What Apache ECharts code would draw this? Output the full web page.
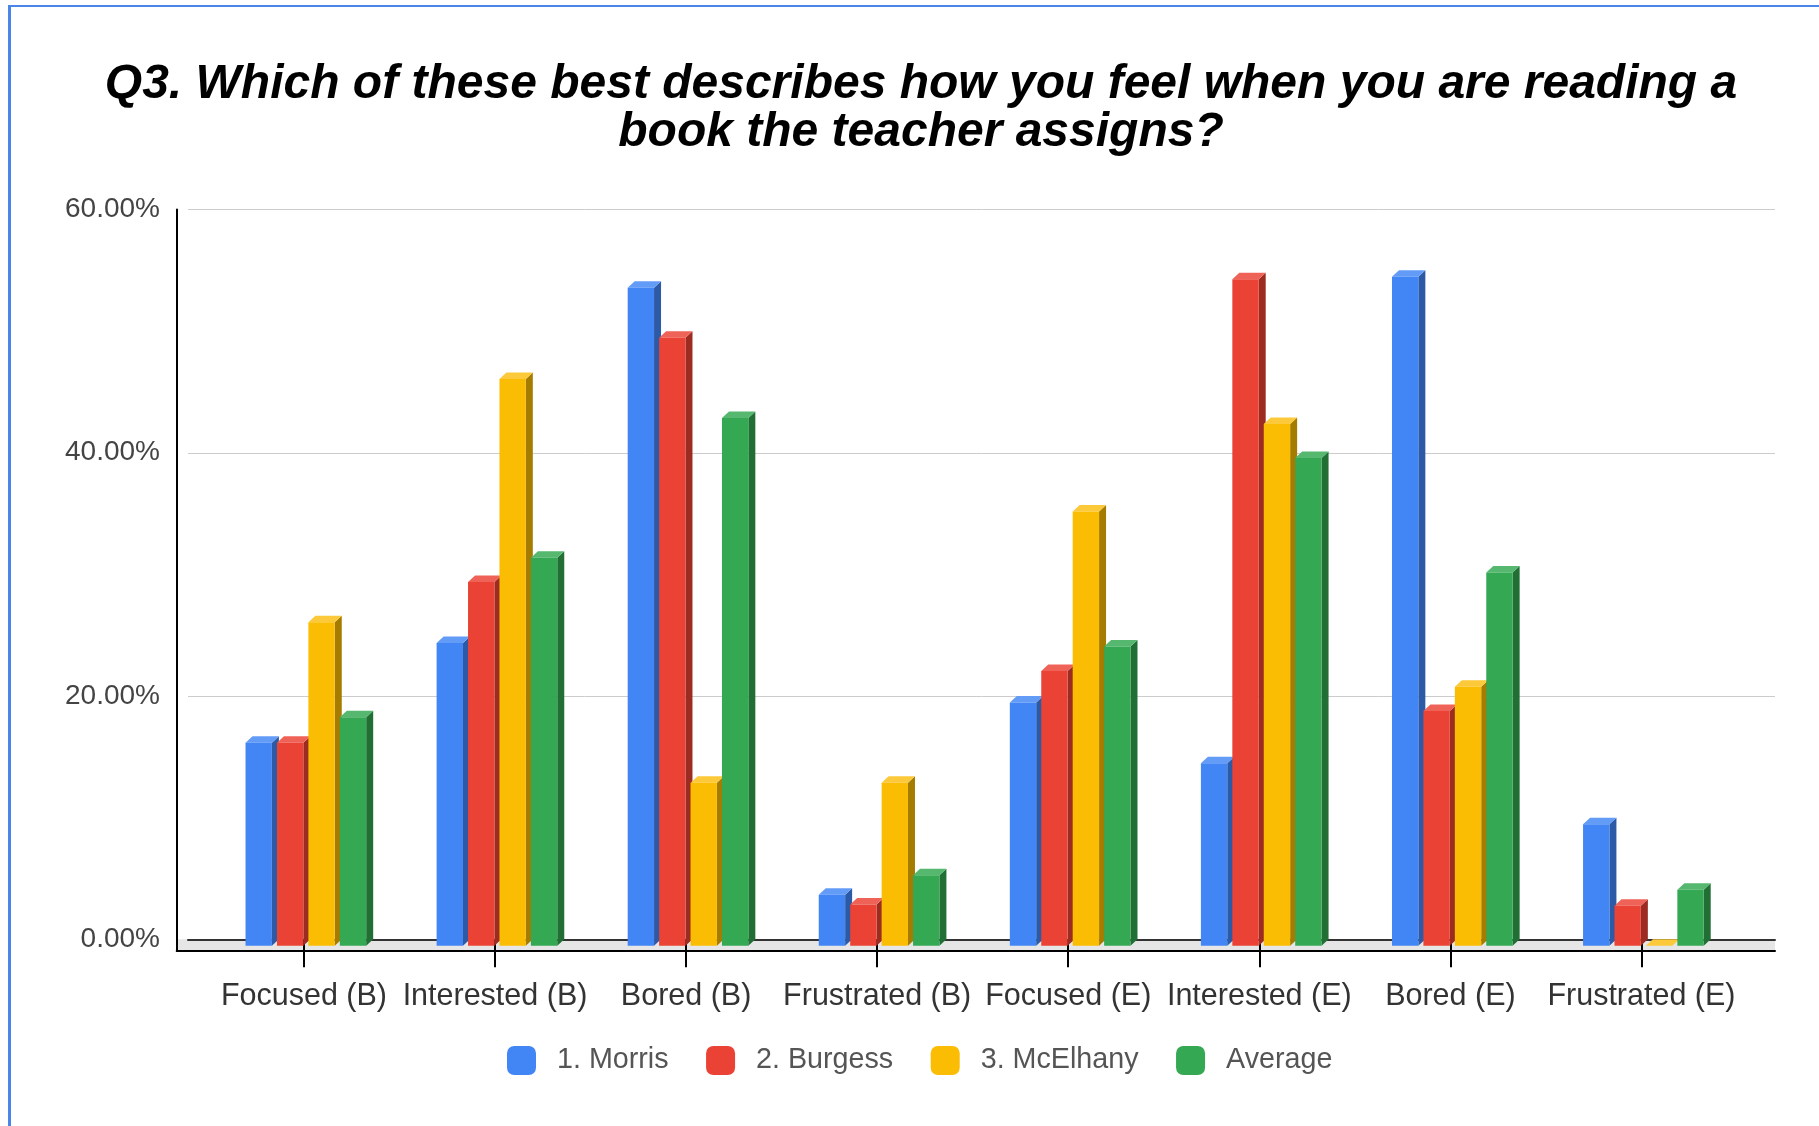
<!DOCTYPE html>
<html><head><meta charset="utf-8">
<script src="https://cdn.jsdelivr.net/npm/echarts@6/dist/echarts.min.js"></script>
<style>
html,body{margin:0;padding:0;background:#fff;overflow:hidden;}
#chart{position:absolute;left:0;top:0;width:1819px;height:1126px;}
#frame{position:absolute;left:8px;top:5px;width:1830px;height:1140px;border-left:3px solid #4a86e8;border-top:2px solid #4a86e8;pointer-events:none;}
</style></head><body>
<div id="chart"></div><div id="frame"></div>
<script>
const categories = ['Focused (B)', 'Interested (B)', 'Bored (B)', 'Frustrated (B)', 'Focused (E)', 'Interested (E)', 'Bored (E)', 'Frustrated (E)'];
const seriesNames = ['1. Morris', '2. Burgess', '3. McElhany', 'Average'];
const morris   = [16.7, 24.9, 54.1, 4.2, 20.0, 15.0, 55.0, 10.0];
const burgess  = [16.7, 29.9, 50.0, 3.4, 22.6, 54.8, 19.3, 3.3];
const mcelhany = [26.6, 46.6, 13.4, 13.4, 35.7, 42.9, 21.3, 0];
const average  = [18.8, 31.9, 43.4, 5.8, 24.6, 40.1, 30.7, 4.6];
const yMin = 0, yMax = 60, yInterval = 20;

const seriesValues = [morris, burgess, mcelhany, average];
const frontColors = ['#4285f4', '#ea4335', '#fbbc04', '#34a853'];
const sideColors  = ['#2d5aa6', '#9c2b22', '#a67c00', '#226f36'];
const topColors   = ['#639cf6', '#ef6257', '#fcc93a', '#55b86e'];
const FONT = "'Liberation Sans', Arial, sans-serif";

function make3DRender(s) {
  return function (params, api) {
    const i = api.value(0), v = api.value(1);
    const pTop = api.coord([i, v]);
    const pBase = api.coord([i, 0]);
    const band = api.size([1, 0])[0];
    const fw = band * 0.138;
    const step = band * 0.1645;
    const L = pTop[0] - band * 0.3057 + s * step;
    const dx = 7, dy = 6.5;
    const yT = pTop[1], yB = pBase[1];
    return {
      type: 'group',
      children: [
        { type: 'polygon', shape: { points: [[L + fw, yT + dy], [L + fw + dx, yT], [L + fw + dx, yB], [L + fw, yB + dy]] }, style: { fill: sideColors[s] } },
        { type: 'polygon', shape: { points: [[L, yT + dy], [L + fw, yT + dy], [L + fw + dx, yT], [L + dx, yT]] }, style: { fill: topColors[s] } },
        { type: 'rect', shape: { x: L, y: yT + dy, width: fw, height: yB - yT }, style: { fill: frontColors[s] } }
      ]
    };
  };
}

const chart = echarts.init(document.getElementById('chart'), null, { renderer: 'canvas' });
const hidden = { show: false };
const option = {
  animation: false,
  backgroundColor: '#ffffff',
  color: frontColors,
  title: {
    text: 'Q3. Which of these best describes how you feel when you are reading a\nbook the teacher assigns?',
    left: 921, textAlign: 'center', top: 61, padding: 0,
    textStyle: { fontSize: 48, fontWeight: 'bold', fontStyle: 'italic', fontFamily: FONT, color: '#000', lineHeight: 48 }
  },
  legend: {
    data: seriesNames, left: 507, top: 1046, padding: 0,
    icon: 'roundRect', itemWidth: 29, itemHeight: 29, itemGap: 37.5,
    textStyle: { fontSize: 28.7, color: '#555', fontFamily: FONT, padding: [0, 0, 0, 16] }
  },
  grid: [
    { left: 208.4, right: 82, top: 209.5, bottom: 186.7, outerBoundsMode: 'none' },
    { left: 188, right: 44, top: 209.5, bottom: 186.7, outerBoundsMode: 'none' },
    { left: 176.7, right: 44, top: 209.5, bottom: 175, outerBoundsMode: 'none' },
    { left: 176.7, right: 44, top: 939.3, bottom: 175, show: true, backgroundColor: '#e6e6e6', borderWidth: 0, outerBoundsMode: 'none' }
  ],
  xAxis: [
    { gridIndex: 0, type: 'category', data: categories,
      axisLine: hidden,
      axisTick: { show: true, alignWithLabel: true, interval: 0, length: 28, lineStyle: { color: '#000', width: 2 } },
      axisLabel: { interval: 0, margin: 42.5, fontSize: 30.5, lineHeight: 30, color: '#333', fontFamily: FONT },
      splitLine: hidden },
    { gridIndex: 1, type: 'value', min: 0, max: 1,
      axisLine: { show: true, onZero: false, lineStyle: { color: '#333', width: 2 } },
      axisTick: hidden, axisLabel: hidden, splitLine: hidden },
    { gridIndex: 2, type: 'value', min: 0, max: 1,
      axisLine: { show: true, onZero: false, lineStyle: { color: '#000', width: 2 } },
      axisTick: hidden, axisLabel: hidden, splitLine: hidden },
    { gridIndex: 3, type: 'value', min: 0, max: 1, show: false }
  ],
  yAxis: [
    { gridIndex: 0, type: 'value', min: yMin, max: yMax, interval: yInterval, show: false },
    { gridIndex: 1, type: 'value', min: yMin, max: yMax, interval: yInterval, offset: 11.3,
      axisLine: hidden, axisTick: hidden,
      axisLabel: { margin: 16.7, fontSize: 28, color: '#444', fontFamily: FONT, padding: [0, 0, 3, 0],
        formatter: function (v) { return v.toFixed(2) + '%'; } },
      splitLine: { show: true, lineStyle: { color: '#cccccc', width: 1 } } },
    { gridIndex: 2, type: 'value', min: 0, max: 1,
      axisLine: { show: true, onZero: false, lineStyle: { color: '#000', width: 2 } },
      axisTick: hidden, axisLabel: hidden, splitLine: hidden },
    { gridIndex: 3, type: 'value', min: 0, max: 1, show: false }
  ],
  series: seriesNames.map(function (name, s) {
    return {
      name: name, type: 'custom', xAxisIndex: 0, yAxisIndex: 0,
      itemStyle: { color: frontColors[s] },
      encode: { x: 0, y: 1 },
      renderItem: make3DRender(s),
      data: seriesValues[s].map(function (v, i) { return [i, v]; }),
      z: 2
    };
  })
};
chart.setOption(option);
</script>
</body></html>
